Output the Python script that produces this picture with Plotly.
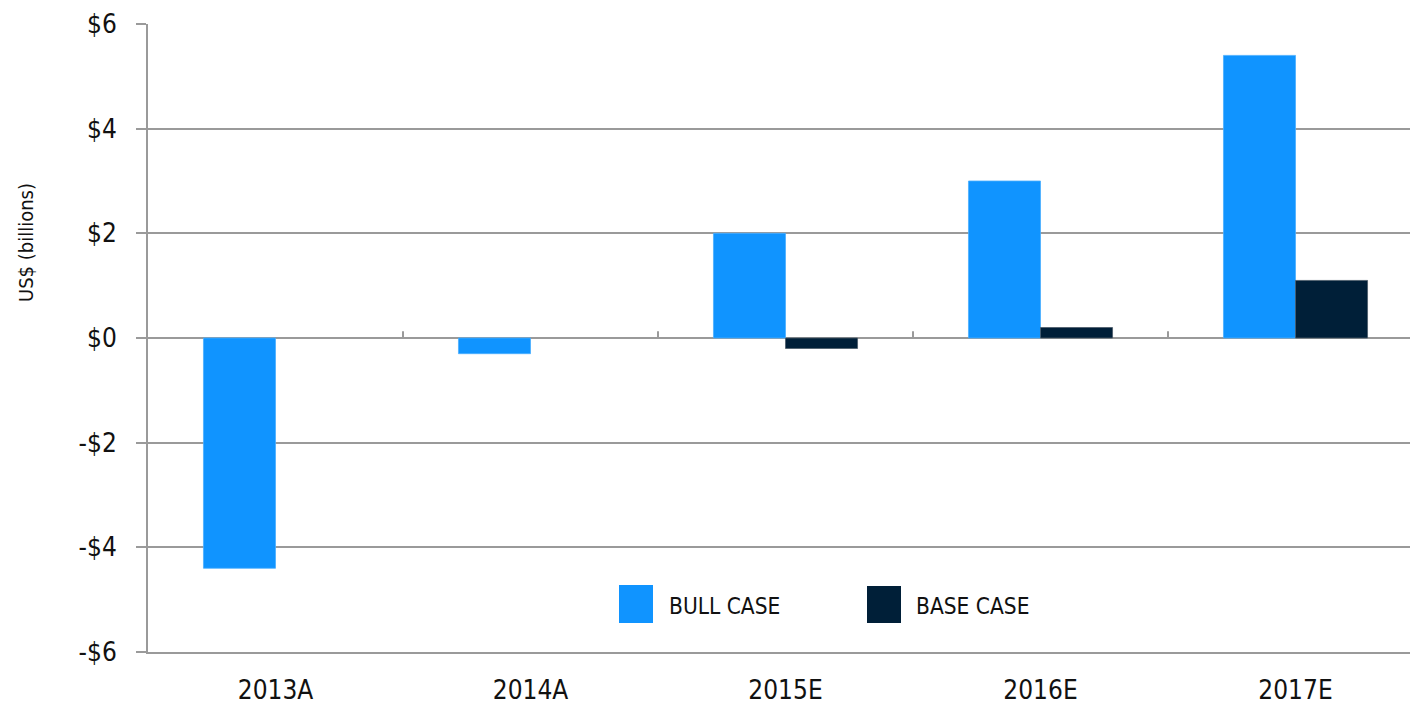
import plotly.graph_objects as go

categories = ["2013A", "2014A", "2015E", "2016E", "2017E"]
bull_case = [-4.4, -0.3, 2.0, 3.0, 5.4]
base_case = [0.0, 0.0, -0.2, 0.2, 1.1]
y_tick_vals = [6, 4, 2, 0, -2, -4, -6]
y_tick_text = ["$6", "$4", "$2", "$0", "-$2", "-$4", "-$6"]

BULL = "#1094FF"
BASE = "#001F38"
GRID = "#9a9a9a"
FONT = "DejaVu Sans Condensed, Liberation Sans Narrow, sans-serif"

W, H = 1410, 707
L, R, T, B = 148, 0, 24, 55
pw, ph = W - L - R, H - T - B

def px(x):
    return (x - L) / pw

def py(y):
    return (H - B - y) / ph

fig = go.Figure()
fig.add_trace(go.Bar(x=categories, y=bull_case, name="BULL CASE",
                     marker=dict(color=BULL,
                                 line=dict(color="#4aaeff",
                                           width=[0 if v == 0 else 0.8 for v in bull_case]))))
fig.add_trace(go.Bar(x=categories, y=base_case, name="BASE CASE",
                     marker=dict(color=BASE,
                                 line=dict(color="#4a5a68",
                                           width=[0 if v == 0 else 0.8 for v in base_case]))))

shapes = []
for i in range(len(categories) - 1):
    shapes.append(dict(type="line", xref="x", yref="y", x0=i + 0.5, x1=i + 0.5,
                       y0=0, y1=0.13, line=dict(color=GRID, width=2)))
shapes.append(dict(type="rect", xref="paper", yref="paper",
                   x0=px(619), x1=px(653), y0=py(623), y1=py(585),
                   fillcolor=BULL, line=dict(width=0)))
shapes.append(dict(type="rect", xref="paper", yref="paper",
                   x0=px(867), x1=px(901), y0=py(623), y1=py(586),
                   fillcolor=BASE, line=dict(width=0)))

annotations = [
    dict(text="BULL CASE", xref="paper", yref="paper", x=px(667), y=py(606),
         xanchor="left", yanchor="middle", showarrow=False,
         font=dict(family=FONT, size=22.5, color="#111")),
    dict(text="BASE CASE", xref="paper", yref="paper", x=px(914), y=py(606),
         xanchor="left", yanchor="middle", showarrow=False,
         font=dict(family=FONT, size=22.5, color="#111")),
    dict(text="US$ (billions)", xref="paper", yref="paper", x=px(26), y=py(243),
         xanchor="center", yanchor="middle", textangle=-90, showarrow=False,
         font=dict(family=FONT, size=20, color="#111")),
]

fig.update_layout(
    width=W, height=H,
    margin=dict(l=L, r=R, t=T, b=B, pad=0),
    paper_bgcolor="white", plot_bgcolor="white",
    barmode="group", bargap=0.435, bargroupgap=0,
    showlegend=False,
    shapes=shapes, annotations=annotations,
    font=dict(family=FONT, color="#111"),
)
fig.update_xaxes(
    type="category", range=[-0.5, 4.449],
    showgrid=False, zeroline=False,
    showline=True, linecolor=GRID, linewidth=2,
    ticks="", tickfont=dict(family=FONT, size=26, color="#111"),
    ticklabelstandoff=14,
)
fig.update_yaxes(
    range=[-6, 6], tickvals=y_tick_vals, ticktext=y_tick_text,
    showgrid=True, gridcolor=GRID, gridwidth=1.5,
    zeroline=True, zerolinecolor=GRID, zerolinewidth=2,
    showline=True, linecolor=GRID, linewidth=2,
    ticks="outside", ticklen=10, tickcolor=GRID, tickwidth=2,
    tickfont=dict(family=FONT, size=26, color="#111"),
    ticklabelstandoff=14,
)

fig.write_html("out.html", config={"displayModeBar": False},
               post_script="document.body.style.margin='0';document.body.style.overflow='hidden';")
